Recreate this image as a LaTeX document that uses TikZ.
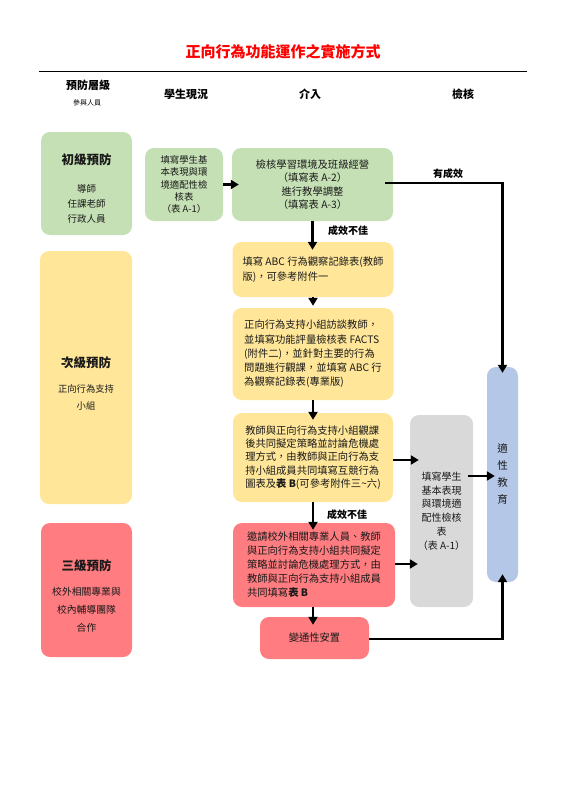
\documentclass[tikz,border=0pt]{standalone}
\usepackage{fontspec}
\setmainfont{Noto Sans CJK TC}
\usetikzlibrary{arrows.meta}
\definecolor{cgreen}{HTML}{C5E0B4}
\definecolor{cyellow}{HTML}{FFE699}
\definecolor{cred}{HTML}{FF7C80}
\definecolor{cgray}{HTML}{D9D9D9}
\definecolor{cblue}{HTML}{B4C7E7}
\definecolor{ctxt}{HTML}{1A1A1A}
\begin{document}
\begin{tikzpicture}[x=1pt,y=-1pt,
  box/.style={rounded corners=9pt, inner sep=0pt, draw=none, text=ctxt},
  lbox/.style={box, align=left},
  cbox/.style={box, align=center},
  body/.style={font=\fontsize{10.3}{14.3}\selectfont},
  arr/.style={line width=2.6pt, -{Triangle[length=8pt,width=9pt]}},
  lab/.style={font=\fontsize{10}{12}\selectfont\bfseries, inner sep=0pt},
  head/.style={font=\fontsize{11}{13}\selectfont\bfseries, inner sep=0pt},
  ltext/.style={align=center, inner sep=0pt, text=ctxt}
]
\useasboundingbox (0,0) rectangle (566,800);

% title and header
\node[font=\fontsize{15}{17}\selectfont\bfseries, text=red, inner sep=0pt] (title) at (283,52) {正向行為功能運作之實施方式};
\draw[line width=1pt] (39,71) -- (527,71);
\node[head] (h1) at (88,85) {預防層級};
\node[font=\fontsize{7}{8}\selectfont, inner sep=0pt] (h1b) at (87,103) {參與人員};
\node[head] (h2) at (186,94) {學生現況};
\node[head] (h3) at (310,94) {介入};
\node[head] (h4) at (463,94) {檢核};

% left level boxes
\node[cbox, fill=cgreen, minimum width=91pt, minimum height=103pt] (L1) at (86.5,183.5) {};
\node[ltext, font=\fontsize{9.5}{15}\selectfont] (L1t) at (86.5,188)
  {{\fontsize{12.5}{14}\selectfont\bfseries 初級預防}\\[13pt]導師\\任課老師\\行政人員};
\node[cbox, fill=cyellow, minimum width=92pt, minimum height=253pt] (L2) at (86,377.5) {};
\node[ltext, font=\fontsize{9.3}{17}\selectfont] (L2t) at (86,383)
  {{\fontsize{12.5}{14}\selectfont\bfseries 次級預防}\\[8pt]正向行為支持\\小組};
\node[cbox, fill=cred, minimum width=91pt, minimum height=134pt] (L3) at (86.5,590) {};
\node[ltext, font=\fontsize{9.8}{18}\selectfont] (L3t) at (86.5,595.5)
  {{\fontsize{12.5}{14}\selectfont\bfseries 三級預防}\\[7pt]校外相關專業與\\校內輔導團隊\\合作};

% student status
\node[cbox, fill=cgreen, minimum width=78pt, minimum height=73pt, font=\fontsize{9.4}{12.2}\selectfont] (S1) at (184,184.5)
  {填寫學生基\\本表現與環\\境適配性檢\\核表\\（表 A-1）};

% intervention column
\node[cbox, fill=cgreen, minimum width=161pt, minimum height=73pt, font=\fontsize{10.3}{13.4}\selectfont] (I1) at (312.5,184.5)
  {檢核學習環境及班級經營\\（填寫表 A-2）\\進行教學調整\\（填寫表 A-3）};
\node[lbox, body, fill=cyellow, minimum width=161pt, minimum height=55pt] (Y1) at (313,269.5)
  {填寫 ABC 行為觀察記錄表(教師\\版)，可參考附件一};
\node[lbox, body, fill=cyellow, minimum width=161pt, minimum height=92pt] (Y2) at (313,354)
  {正向行為支持小組訪談教師，\\並填寫功能評量檢核表 FACTS\\(附件二)，並針對主要的行為\\問題進行觀課，並填寫 ABC 行\\為觀察記錄表(專業版)};
\node[lbox, fill=cyellow, minimum width=160pt, minimum height=89pt, font=\fontsize{10.3}{13.3}\selectfont] (Y3) at (313,457.5)
  {教師與正向行為支持小組觀課\\後共同擬定策略並討論危機處\\理方式，由教師與正向行為支\\持小組成員共同填寫互競行為\\圖表及\textbf{表 B}(可參考附件三\textasciitilde 六)};
\node[lbox, fill=cred, minimum width=162pt, minimum height=84pt, font=\fontsize{10.3}{14}\selectfont] (R1) at (314,565)
  {邀請校外相關專業人員、教師\\與正向行為支持小組共同擬定\\策略並討論危機處理方式，由\\教師與正向行為支持小組成員\\共同填寫\textbf{表 B}};
\node[cbox, body, fill=cred, minimum width=109pt, minimum height=42pt] (R2) at (314.5,638) {變通性安置};

% check column
\node[cbox, fill=cgray, minimum width=63pt, minimum height=192pt, font=\fontsize{10}{13.7}\selectfont] (G) at (441.5,511)
  {填寫學生\\基本表現\\與環境適\\配性檢核\\表\\（表 A-1）};
\node[cbox, fill=cblue, minimum width=31pt, minimum height=215pt, font=\fontsize{10.5}{17}\selectfont] (B) at (502.5,474.5)
  {適\\性\\教\\育};

% connectors
\draw[arr] (S1.east) -- ([xshift=7pt]I1.west);
\draw[arr] ([xshift=-8pt,yshift=1.5pt]I1.east) -| ([yshift=-6pt]B.north);
\node[lab] (ok) at (448,174) {有成效};
\draw[arr] (I1.south) -- ([yshift=-8pt]I1.south |- Y1.north);
\node[lab] (bad1) at (348,231) {成效不佳};
\draw[arr] (Y1.south) -- ([yshift=2pt]Y1.south |- Y2.north);
\draw[arr] (Y2.south) -- ([yshift=-7pt]Y2.south |- Y3.north);
\draw[arr] ([yshift=-2.5pt]Y3.east) -- ([xshift=9pt,yshift=-2.5pt]G.west |- Y3.east);
\draw[arr] (Y3.south) -- ([yshift=-7pt]Y3.south |- R1.north);
\node[lab] (bad2) at (347,515) {成效不佳};
\draw[arr] ([yshift=1pt]R1.east) -- ([xshift=8pt,yshift=1pt]G.west |- R1.east);
\draw[arr] ([xshift=-1pt]R1.south) -- ([xshift=-1pt,yshift=-8pt]R1.south |- R2.north);
\draw[arr] ([yshift=-1pt]R2.east) -| ([yshift=8pt]B.south);
\coordinate (gb) at ([xshift=-5pt,yshift=35pt]G.east);
\draw[arr] (gb) -- ([xshift=8pt]B.west |- gb);
\end{tikzpicture}
\end{document}
